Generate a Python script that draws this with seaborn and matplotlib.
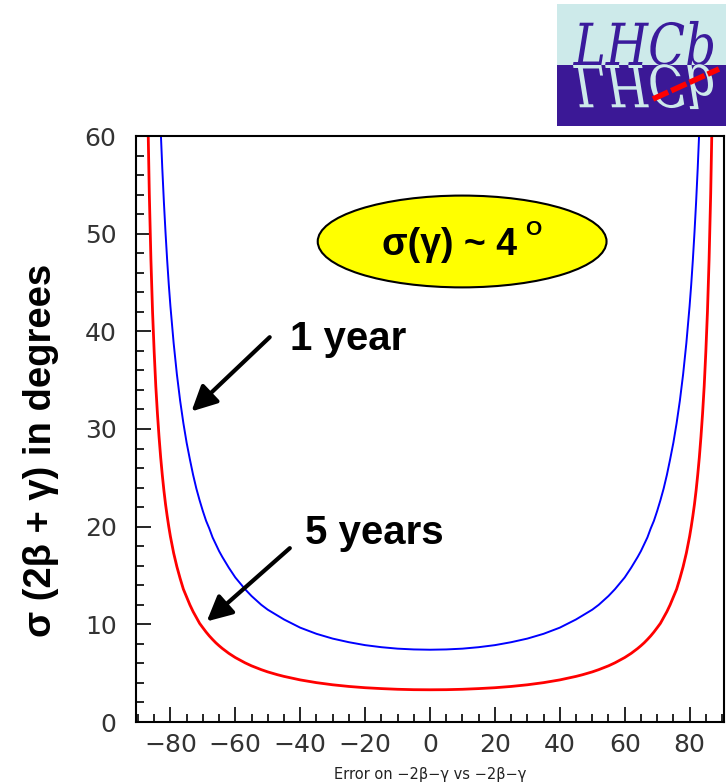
import matplotlib
matplotlib.use('Agg')
import matplotlib.pyplot as plt
import numpy as np
import pandas as pd
import seaborn as sns
from matplotlib.patches import Ellipse, Rectangle, PathPatch
from matplotlib.textpath import TextPath
from matplotlib.font_manager import FontProperties
from matplotlib.ticker import MultipleLocator
import matplotlib.transforms as mtransforms

# values (curves are symmetric around 0)
angle_neg = [-88, -87.5, -87, -86.5, -86, -85.5, -85, -84.5, -84, -83.5, -83, -82.5, -82, -81.5,
             -81, -80.5, -80, -79, -78, -77, -76, -75, -74, -73, -72, -71, -70, -69, -68, -67,
             -66, -65, -64, -62, -60, -57, -55, -52, -50, -47, -45, -40, -35, -30, -25, -20,
             -15, -10, -5]
sigma_1y_neg = [212, 170, 141, 121, 106, 94.3, 84.9, 77.2, 70.8, 65.4, 60.7, 56.7, 53.2, 50.1,
                47.3, 44.8, 42.6, 38.8, 35.6, 32.9, 30.6, 28.6, 26.9, 25.3, 23.9, 22.7, 21.6,
                20.6, 19.8, 18.9, 18.2, 17.5, 16.9, 15.8, 14.8, 13.6, 12.9, 12.0, 11.5, 10.9,
                10.5, 9.66, 9.03, 8.54, 8.17, 7.87, 7.66, 7.51, 7.43]
sigma_5y_neg = [94.6, 75.7, 63.1, 54.1, 47.3, 42.0, 37.9, 34.4, 31.6, 29.2, 27.1, 25.3, 23.7,
                22.3, 21.1, 20.0, 19.0, 17.3, 15.9, 14.7, 13.6, 12.8, 12.0, 11.3, 10.7, 10.1,
                9.65, 9.21, 8.81, 8.45, 8.11, 7.81, 7.53, 7.03, 6.6, 6.06, 5.75, 5.36, 5.13,
                4.84, 4.67, 4.31, 4.03, 3.81, 3.64, 3.51, 3.42, 3.35, 3.31]
sigma_1y_min = 7.4
sigma_5y_min = 3.3

angle = angle_neg + [0] + [-a for a in angle_neg[::-1]]
sigma_1y = sigma_1y_neg + [sigma_1y_min] + sigma_1y_neg[::-1]
sigma_5y = sigma_5y_neg + [sigma_5y_min] + sigma_5y_neg[::-1]

df = pd.DataFrame({
    'angle': angle * 2,
    'sigma': sigma_1y + sigma_5y,
    'period': ['1 year'] * len(angle) + ['5 years'] * len(angle),
})

sns.set_style('white')
fig = plt.figure(figsize=(7.26, 7.83), dpi=100)
ax = fig.add_axes([136 / 726, 1 - 722 / 783, 588 / 726, 586 / 783])

sns.lineplot(data=df, x='angle', y='sigma', hue='period', palette={'1 year': 'blue', '5 years': 'red'},
             linewidth=1.4, ax=ax, legend=False, sort=False, estimator=None)
ax.lines[1].set_linewidth(2.0)

ax.set_xlim(-90.6, 90.6)
ax.set_ylim(0, 60)
ax.xaxis.set_major_locator(MultipleLocator(20))
ax.xaxis.set_minor_locator(MultipleLocator(5))
ax.yaxis.set_major_locator(MultipleLocator(10))
ax.yaxis.set_minor_locator(MultipleLocator(2))
ax.tick_params(which='both', direction='in', color='black', width=1.2,
               labelsize=18, labelcolor='#333333', bottom=True, left=True, top=False, right=False)
ax.tick_params(which='major', length=11)
ax.tick_params(which='minor', length=6)
ax.tick_params(axis='y', pad=14)
ax.tick_params(axis='x', pad=8)
for sp in ax.spines.values():
    sp.set_linewidth(1.5)
    sp.set_color('black')

ax.set_xlabel('Error on \u22122\u03b2\u2212\u03b3 vs \u22122\u03b2\u2212\u03b3', fontsize=10.5, color='#222222', labelpad=7)
ax.set_ylabel('')
fig.text(41 / 726, 1 - 450 / 783, '\u03c3 (2\u03b2 + \u03b3) in degrees', rotation=90, color='black',
         fontsize=27.5, fontweight='bold', family='Liberation Sans', ha='center', va='center')

# yellow ellipse with sigma(gamma)
ax.add_patch(Ellipse((9.9, 49.2), 89, 9.4, facecolor='yellow', edgecolor='black', linewidth=1.5, zorder=3))
ax.text(6.0, 48.8, '\u03c3(\u03b3) ~ 4', fontsize=27, fontweight='bold', family='Liberation Sans',
        color='black', ha='center', va='center', zorder=4)
ax.text(31.8, 50.4, 'O', fontsize=15, fontweight='bold', family='Liberation Sans',
        color='black', ha='center', va='center', zorder=4)

# annotations with arrows
arrow = dict(arrowstyle='-|>', lw=3, color='black', mutation_scale=38, shrinkA=0, shrinkB=0)
ax.annotate('', xy=(-73.5, 31.8), xytext=(-49.4, 39.4), arrowprops=arrow)
ax.text(-43.2, 39.2, '1 year', fontsize=29, fontweight='bold', family='Liberation Sans',
        color='black', ha='left', va='center')
ax.annotate('', xy=(-68.8, 10.3), xytext=(-43.2, 17.8), arrowprops=arrow)
ax.text(-38.6, 19.4, '5 years', fontsize=29, fontweight='bold', family='Liberation Sans',
        color='black', ha='left', va='center')

# LHCb logo
lax = fig.add_axes([557 / 726, 1 - 126 / 783, 169 / 726, 122 / 783])
lax.set_xlim(0, 169)
lax.set_ylim(0, 122)
lax.axis('off')
lax.add_patch(Rectangle((0, 61), 169, 61, facecolor='#cdeaea', edgecolor='none'))
lax.add_patch(Rectangle((0, 0), 169, 61, facecolor='#3b1896', edgecolor='none'))
fp = FontProperties(family='DejaVu Serif', style='italic')
tp = TextPath((0, 0), 'LHCb', size=58, prop=fp)
ext = tp.get_extents()
sx = 140 / ext.width
base = mtransforms.Affine2D().translate(-ext.x0, 0).scale(sx, 1).translate(16, 61)
lax.add_patch(PathPatch(base.transform_path(tp), facecolor='#3a1a9c', edgecolor='none'))
flip = mtransforms.Affine2D().translate(-ext.x0, 0).scale(sx, -1).translate(16, 61)
lax.add_patch(PathPatch(flip.transform_path(tp), facecolor='#cdeaea', edgecolor='none'))
lax.plot([96, 162], [27, 57], color='red', lw=4, ls=(0, (3, 0.6)))

fig.savefig('out.png', dpi=100)
